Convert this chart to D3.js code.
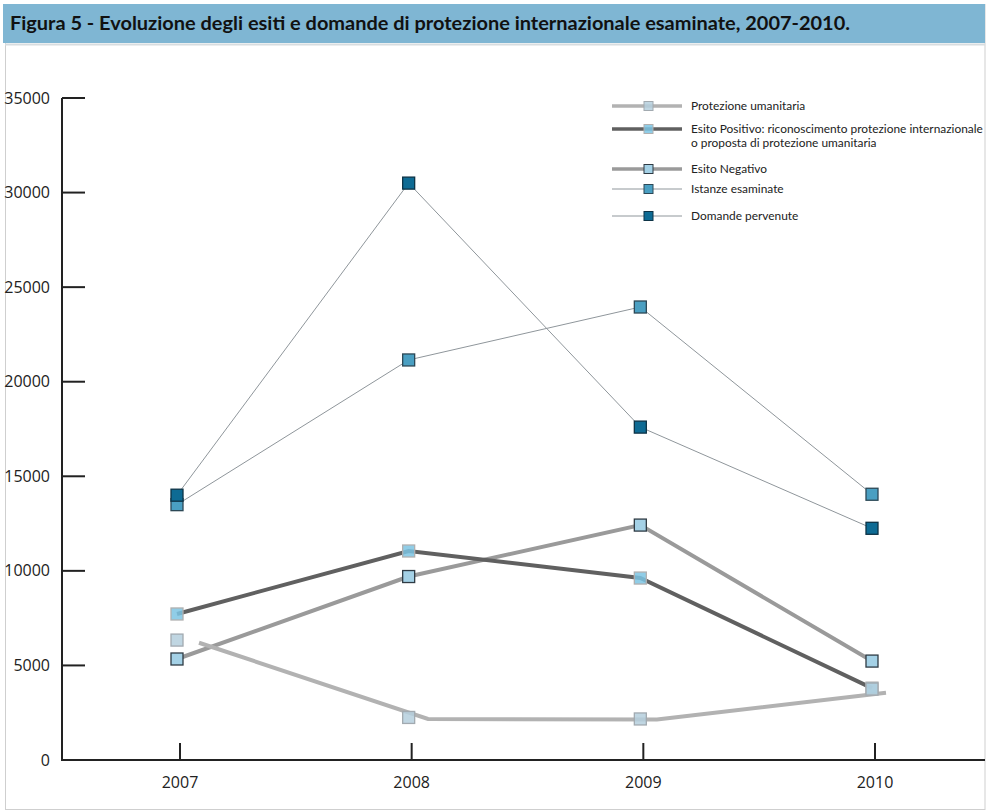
<!DOCTYPE html>
<html>
<head>
<meta charset="utf-8">
<script src="https://cdn.jsdelivr.net/npm/d3@7/dist/d3.min.js"></script>
<style>
  html, body { margin: 0; padding: 0; background: #fff; }
  svg { display: block; }
</style>
</head>
<body>
<svg id="chart" width="987" height="811"></svg>
<script>
// ---------- DATA ----------
const years = ["2007", "2008", "2009", "2010"];
const yTicks = [0, 5000, 10000, 15000, 20000, 25000, 30000, 35000];
const domandePervenute = [14000, 30500, 17600, 12250];
const istanzeEsaminate = [13500, 21150, 23950, 14050];
const esitoNegativo = [5340, 9700, 12420, 5230];
const esitoPositivo = [7720, 11050, 9620, 3800];
const protezioneUmanitaria = [6340, 2250, 2170, 3750];
const protezioneUmanitariaLine = [6200, 2170, 2140, 3560];
const legendLabels = [
  ["Protezione umanitaria"],
  ["Esito Positivo: riconoscimento protezione internazionale", "o proposta di protezione umanitaria"],
  ["Esito Negativo"],
  ["Istanze esaminate"],
  ["Domande pervenute"]
];
const titleText = "Figura 5 - Evoluzione degli esiti e domande di protezione internazionale esaminate, 2007-2010.";

// ---------- LAYOUT ----------
const svg = d3.select("#chart");
const axisX = 62, axisY = 760, topY = 98;

// frame + title
svg.append("rect").attr("x", 5.5).attr("y", 4.5).attr("width", 979.5).attr("height", 805)
  .attr("fill", "#fff").attr("stroke", "#cfcfcf").attr("stroke-width", 1);
svg.append("rect").attr("x", 3).attr("y", 4).attr("width", 982).attr("height", 39)
  .attr("fill", "#7fb6d3");
svg.append("line").attr("x1", 5).attr("x2", 985).attr("y1", 44.5).attr("y2", 44.5)
  .attr("stroke", "#d8dde0").attr("stroke-width", 2);
svg.append("text").attr("x", 10).attr("y", 30)
  .attr("font-family", "Lato, 'Open Sans', sans-serif").attr("font-weight", "bold")
  .attr("font-size", 19.5).attr("textLength", 840).attr("lengthAdjust", "spacingAndGlyphs")
  .attr("fill", "#111").text(titleText);

// scales
const y = d3.scaleLinear().domain([0, 35000]).range([axisY, topY]);
const xTick = d3.scalePoint().domain(years).range([180, 875]);
const xMark = d3.scalePoint().domain(years).range([177, 872]);
const xProtLine = d3.scalePoint().domain(years).range([199, 886]);

// axes
const fontTick = "'Open Sans', sans-serif";
const yAxis = svg.append("g");
yAxis.append("line").attr("x1", axisX).attr("x2", axisX).attr("y1", topY).attr("y2", axisY)
  .attr("stroke", "#222").attr("stroke-width", 2);
yAxis.selectAll("line.tick").data(yTicks).join("line").attr("class", "tick")
  .attr("x1", axisX).attr("x2", 85).attr("y1", d => y(d)).attr("y2", d => y(d))
  .attr("stroke", "#222").attr("stroke-width", 2);
yAxis.selectAll("text").data(yTicks).join("text")
  .attr("x", 50).attr("y", d => y(d) + 5.5).attr("text-anchor", "end")
  .attr("font-family", fontTick).attr("font-size", 16).attr("fill", "#222")
  .text(d => d);

const xAxis = svg.append("g");
xAxis.append("line").attr("x1", axisX - 1).attr("x2", 985).attr("y1", axisY).attr("y2", axisY)
  .attr("stroke", "#222").attr("stroke-width", 2);
xAxis.selectAll("line.tick").data(years).join("line").attr("class", "tick")
  .attr("x1", d => xTick(d)).attr("x2", d => xTick(d)).attr("y1", 743).attr("y2", axisY)
  .attr("stroke", "#222").attr("stroke-width", 2);
xAxis.selectAll("text").data(years).join("text")
  .attr("x", d => xTick(d)).attr("y", 788).attr("text-anchor", "middle")
  .attr("font-family", fontTick).attr("font-size", 16).attr("fill", "#222")
  .text(d => d);

// series styles
const series = [
  { name: "istanze", values: istanzeEsaminate, line: "#8f969b", lw: 1, fill: "#4a9fc2", stroke: "#2c4856", op: 1 },
  { name: "domande", values: domandePervenute, line: "#8f969b", lw: 1, fill: "#0e6b94", stroke: "#0d3346", op: 1 },
  { name: "negativo", values: esitoNegativo, line: "#9a9a9a", lw: 4, fill: "#a4d1e6", stroke: "#2f3b44", op: 1 },
  { name: "positivo", values: esitoPositivo, line: "#606060", lw: 4, fill: "#7cc4e3", stroke: "#b0b0b0", op: 0.85 },
  { name: "protezione", values: protezioneUmanitaria, line: "#b2b2b2", lw: 4, fill: "#b5cfdd", stroke: "#a2aab0", op: 0.85 }
];

const lineGen = d3.line().x((d, i) => xMark(years[i])).y(d => y(d));
const lineProt = d3.line().x((d, i) => xProtLine(years[i])).y(d => y(d));

// lines
const lines = svg.append("g");
series.forEach(s => {
  if (s.name === "protezione") return;
  lines.append("path").attr("d", lineGen(s.values)).attr("fill", "none")
    .attr("stroke", s.line).attr("stroke-width", s.lw).attr("stroke-linejoin", "miter");
});
lines.append("path").attr("d", lineProt(protezioneUmanitariaLine)).attr("fill", "none")
  .attr("stroke", "#b2b2b2").attr("stroke-width", 4);

// markers
const ms = 12;
const marks = svg.append("g");
series.forEach(s => {
  marks.selectAll(null).data(s.values).join("rect")
    .attr("x", (d, i) => xMark(years[i]) - ms / 2).attr("y", d => y(d) - ms / 2)
    .attr("width", ms).attr("height", ms)
    .attr("fill", s.fill).attr("fill-opacity", s.op)
    .attr("stroke", s.stroke).attr("stroke-width", 1.3);
});

// legend
const legendOrder = ["protezione", "positivo", "negativo", "istanze", "domande"];
const legendY = [106, 129, 169, 189, 216];
const leg = svg.append("g");
legendOrder.forEach((n, k) => {
  const s = series.find(t => t.name === n);
  const ly = legendY[k];
  leg.append("line").attr("x1", 612).attr("x2", 682).attr("y1", ly).attr("y2", ly)
    .attr("stroke", s.line).attr("stroke-width", s.lw === 1 ? 1 : 3.5);
  leg.append("rect").attr("x", 644).attr("y", ly - 4.5).attr("width", 9).attr("height", 9)
    .attr("fill", s.fill).attr("fill-opacity", s.op)
    .attr("stroke", s.stroke).attr("stroke-width", 1);
  legendLabels[k].forEach((t, j) => {
    leg.append("text").attr("x", 691).attr("y", ly + 3.5 + j * 14)
      .attr("font-family", "Lato, 'Open Sans', sans-serif").attr("font-size", 11.9)
      .attr("fill", "#222").text(t);
  });
});
</script>
</body>
</html>
